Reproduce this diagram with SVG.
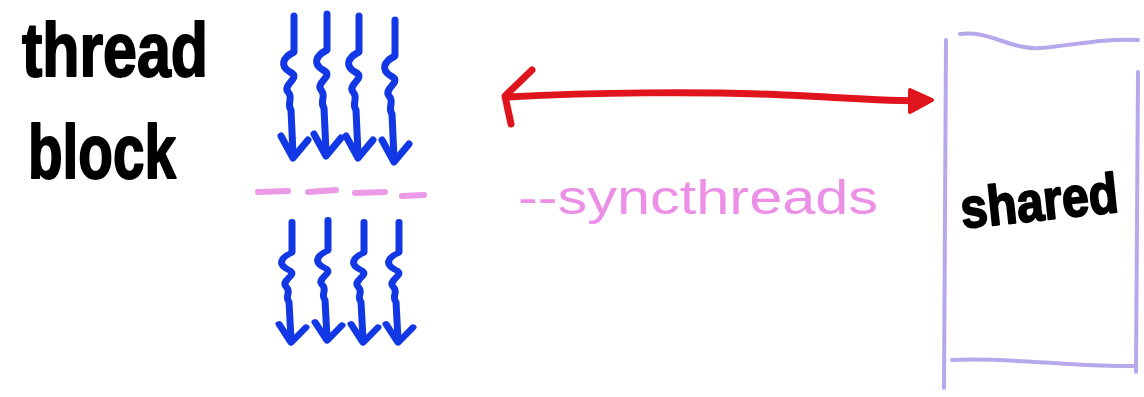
<svg xmlns="http://www.w3.org/2000/svg" width="1144" height="397" viewBox="0 0 1144 397">
  <defs>
    <style>
      .ink { font-family: "Liberation Sans", "DejaVu Sans", sans-serif; font-weight: bold; fill: #000; stroke: #000; stroke-width: 2; stroke-linejoin: round; }
      .thr { fill: none; stroke: #1238e6; stroke-width: 7; stroke-linecap: round; stroke-linejoin: round; }
      .sync { fill: none; stroke: #ec9ae8; stroke-width: 6; stroke-linecap: round; }
      .mem { fill: none; stroke: #b7a8ec; stroke-width: 4; stroke-linecap: round; stroke-linejoin: round; }
      .link { fill: none; stroke: #e0141c; stroke-width: 7; stroke-linecap: round; stroke-linejoin: round; }
    </style>
    <!-- one squiggly thread with its arrowhead, drawn at origin -->
    <g id="thread">
      <path class="thr" d="M0,0 L0,36 C-12,42 -14,50 -4,56 C8,62 -12,68 -6,76 C0,82 -8,88 -3,94 L-1,138"/>
      <path class="thr" d="M-13,120 L-1,142 L14,124"/>
    </g>
  </defs>

  <rect width="1144" height="397" fill="#fff"/>

  <g id="label-thread-block">
    <text class="ink" x="22" y="76" font-size="76" textLength="186" lengthAdjust="spacingAndGlyphs">thread</text>
    <text class="ink" x="28" y="178" font-size="76" textLength="148" lengthAdjust="spacingAndGlyphs">block</text>
  </g>

  <g id="threads-before">
    <use href="#thread" x="294" y="16"/>
    <use href="#thread" x="327" y="14"/>
    <use href="#thread" x="359" y="16"/>
    <use href="#thread" x="395" y="20"/>
  </g>

  <g id="barrier">
    <path class="sync" d="M258,192 L288,191 M308,192 L336,190 M355,193 L385,192 M402,196 L424,195"/>
  </g>

  <g id="threads-after">
    <use href="#thread" x="292" y="222" transform="translate(292 222) scale(1 0.85) translate(-292 -222)"/>
    <use href="#thread" x="328" y="220" transform="translate(328 220) scale(1 0.85) translate(-328 -220)"/>
    <use href="#thread" x="364" y="222" transform="translate(364 222) scale(1 0.85) translate(-364 -222)"/>
    <use href="#thread" x="399" y="222" transform="translate(399 222) scale(1 0.85) translate(-399 -222)"/>
  </g>

  <g id="sync-label">
    <text x="518" y="214" font-family="Liberation Sans, sans-serif" font-size="48" fill="#ec8fe6" textLength="360" lengthAdjust="spacingAndGlyphs">--syncthreads</text>
  </g>

  <g id="shared-memory">
    <path class="mem" d="M946,40 L944,388"/>
    <path class="mem" d="M960,34 C990,30 1010,50 1040,48 C1070,46 1100,38 1138,40"/>
    <path class="mem" d="M1138,72 L1136,372"/>
    <path class="mem" d="M952,360 C990,358 1030,362 1070,364 C1100,366 1120,366 1134,366"/>
    <text class="ink" x="960" y="220" font-size="56" textLength="158" lengthAdjust="spacingAndGlyphs" transform="rotate(-6 1040 200)">shared</text>
  </g>

  <g id="connectors">
    <path class="link" d="M506,97 C600,92 700,92 760,94 C820,96 880,101 926,101"/>
    <path class="link" d="M532,70 L505,96 L511,124"/>
    <path d="M910,90 L932,100 L910,112 Z" fill="#e0141c" stroke="#e0141c" stroke-width="4" stroke-linejoin="round"/>
  </g>
</svg>
